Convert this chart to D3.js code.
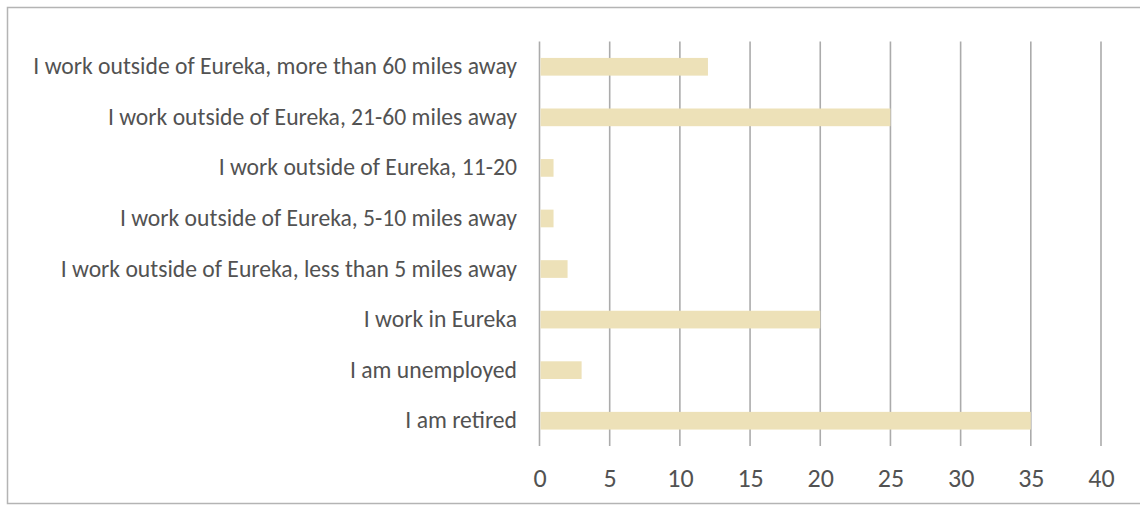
<!DOCTYPE html>
<html>
<head>
<meta charset="utf-8">
<script src="https://cdn.jsdelivr.net/npm/d3@7"></script>
<style>
  html, body { margin: 0; padding: 0; background: #fff; }
  svg { display: block; }
</style>
</head>
<body>
<svg id="chart" width="1140" height="505"></svg>
<script>
const categories = [
  "I work outside of Eureka, more than 60 miles away",
  "I work outside of Eureka, 21-60 miles away",
  "I work outside of Eureka, 11-20",
  "I work outside of Eureka, 5-10 miles away",
  "I work outside of Eureka, less than 5 miles away",
  "I work in Eureka",
  "I am unemployed",
  "I am retired"
];
const values = [12, 25, 1, 1, 2, 20, 3, 35];
const tickValues = [0, 5, 10, 15, 20, 25, 30, 35, 40];

const svg = d3.select("#chart");
const W = 1140, H = 505;
const font = "Carlito, 'Open Sans', 'Noto Sans', sans-serif";
const textColor = "#525252";

// frame
svg.append("rect")
  .attr("x", 7.5).attr("y", 7.5)
  .attr("width", W + 10).attr("height", H - 9)
  .attr("fill", "#fff")
  .attr("stroke", "#b4b4b4")
  .attr("stroke-width", 1.5);

const x = d3.scaleLinear().domain([0, 40]).range([539.5, 1101]);
const y = d3.scaleBand().domain(categories).range([41.5, 446]).paddingInner(0.65).paddingOuter(0.325);

// gridlines
svg.append("g")
  .selectAll("line")
  .data(tickValues)
  .join("line")
  .attr("x1", d => x(d)).attr("x2", d => x(d))
  .attr("y1", 41.5).attr("y2", 446)
  .attr("stroke", "#ababab")
  .attr("stroke-width", 1.6);

// bars
svg.append("g")
  .selectAll("rect")
  .data(values)
  .join("rect")
  .attr("x", x(0) + 1)
  .attr("y", (d, i) => y(categories[i]))
  .attr("width", d => Math.max(0, x(d) - x(0) - 1))
  .attr("height", y.bandwidth())
  .attr("fill", "#ede1b8");

// y axis labels
const yAxis = d3.axisLeft(y).tickSize(0).tickPadding(0);
const gy = svg.append("g").attr("transform", "translate(517,0)").call(yAxis);
gy.select(".domain").remove();
gy.selectAll("text")
  .attr("fill", textColor)
  .attr("font-family", font)
  .attr("font-size", "19px");

// fit the longest label to the reference width (about 484px)
const longest = gy.selectAll("text").nodes()[0];
const w = longest.getComputedTextLength();
const fs = 19 * 484 / w;
gy.selectAll("text").attr("font-size", fs.toFixed(2) + "px");

// x axis labels
const xAxis = d3.axisBottom(x).tickValues(tickValues).tickSize(0).tickPadding(0);
const gx = svg.append("g").attr("transform", "translate(0,469)").call(xAxis);
gx.select(".domain").remove();
gx.selectAll("text")
  .attr("fill", textColor)
  .attr("font-family", font)
  .attr("font-size", (fs * 1.1).toFixed(2) + "px");
</script>
</body>
</html>
